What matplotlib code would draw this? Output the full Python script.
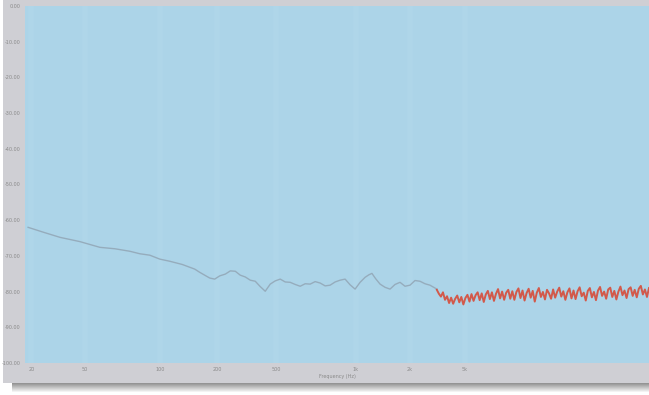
import numpy as np
import matplotlib.pyplot as plt
from matplotlib.patches import Rectangle

# gray (low frequency) part of the trace
gray_x = [5, 30, 56, 88, 120, 144, 168, 184, 200, 216, 232, 252, 272, 280, 288,
          296, 304, 312, 321, 329, 337, 345, 353, 361, 369, 377, 385, 393, 401,
          409, 417, 425, 433, 441, 449, 457, 465, 473, 481, 489, 497, 505, 513,
          521, 529, 537, 545, 551, 556, 562, 569, 577, 585, 593, 601, 609, 617,
          625, 633, 641, 649, 660]
gray_y = [-62.0, -63.4, -64.8, -66.0, -67.6, -68.0, -68.7, -69.4, -69.8, -70.9,
          -71.5, -72.4, -73.7, -74.6, -75.4, -76.2, -76.5, -75.6, -75.1, -74.2,
          -74.3, -75.4, -75.9, -76.8, -77.1, -78.6, -79.9, -77.9, -77.0, -76.5,
          -77.3, -77.4, -78.0, -78.5, -77.8, -77.9, -77.2, -77.6, -78.4, -78.2,
          -77.3, -76.8, -76.5, -78.1, -79.3, -77.4, -76.0, -75.3, -74.9, -76.4,
          -77.9, -78.8, -79.3, -78.0, -77.4, -78.5, -78.2, -76.9, -77.1, -77.8,
          -78.2, -79.3]

# red (high frequency) part of the trace, evenly spaced from 660 to 1000
red_start, red_end = 660, 1000
red_y = [-79.5, -80.6, -81.4, -80.2, -82.3, -81.3, -83.2, -81.7, -83.4, -82.0,
         -81.1, -83.0, -81.5, -83.6, -81.8, -80.9, -82.8, -80.7, -82.6, -81.0,
         -80.2, -82.4, -80.5, -82.9, -80.8, -79.8, -82.1, -80.2, -82.6, -80.6,
         -79.3, -81.9, -80.0, -82.3, -80.3, -79.5, -82.0, -79.9, -82.3, -80.1,
         -79.1, -81.8, -79.7, -82.5, -80.4, -79.2, -81.7, -79.8, -82.8, -80.3,
         -79.0, -81.5, -80.1, -82.2, -79.5, -80.5, -82.0, -79.4, -81.7, -80.0,
         -78.9, -81.4, -79.9, -82.3, -80.2, -79.1, -81.9, -79.7, -82.1, -79.9,
         -78.8, -81.3, -80.3, -82.5, -79.8, -79.0, -81.6, -80.1, -82.4, -79.7,
         -78.7, -81.2, -80.0, -82.0, -79.4, -78.9, -81.5, -79.8, -82.2, -80.0,
         -78.6, -81.0, -79.7, -81.8, -79.3, -78.8, -81.2, -79.5, -81.6, -79.2,
         -78.4, -80.8, -79.4, -81.5, -79.0]

x_ticks = [10, 96, 216, 308, 403, 530, 617, 705]
x_labels = ["20", "50", "100", "200", "500", "1k", "2k", "5k"]
y_ticks = list(range(-100, 1, 10))
y_labels = ["%d.00" % v for v in y_ticks]

fig = plt.figure(figsize=(6.49, 3.95), dpi=100)
fig.patch.set_facecolor("white")

# gray panel behind the plot
fig.patches.append(Rectangle((3 / 649, 12 / 395), 646 / 649, 383 / 395,
                             transform=fig.transFigure, facecolor="#cfcfd4",
                             edgecolor="none", zorder=-2))
# drop shadow under the panel
for i in range(9):
    fig.patches.append(Rectangle((12 / 649, (11 - i) / 395), 637 / 649, 1 / 395,
                                 transform=fig.transFigure, facecolor="#707070",
                                 alpha=0.75 * (1 - i / 9), edgecolor="none", zorder=-2))

ax = fig.add_axes([25 / 649, 1 - 363 / 395, 624 / 649, 357 / 395])
ax.set_zorder(1)
ax.set_facecolor("#acd4e8")
ax.set_xlim(0, 1000)
ax.set_ylim(-100, 0)

ax.plot(gray_x, gray_y, color="#93a8b8", lw=1.0, alpha=0.9)
red_x = np.linspace(red_start, red_end, len(red_y))
ax.plot(red_x, red_y, color="#d9442f", lw=1.4, alpha=0.85)

ax.set_xticks(x_ticks)
ax.set_xticklabels(x_labels)
ax.set_yticks(y_ticks)
ax.set_yticklabels(y_labels)
ax.tick_params(labelsize=3.5, colors="#8a8a8a", length=0, pad=3)
ax.set_xlabel("Frequency (Hz)", fontsize=3.5, color="#8a8a8a", labelpad=1)
ax.grid(True, axis="x", color="#b8dcee", lw=4, alpha=0.3)
for s in ax.spines.values():
    s.set_visible(False)

fig.savefig("out.png", dpi=100)
